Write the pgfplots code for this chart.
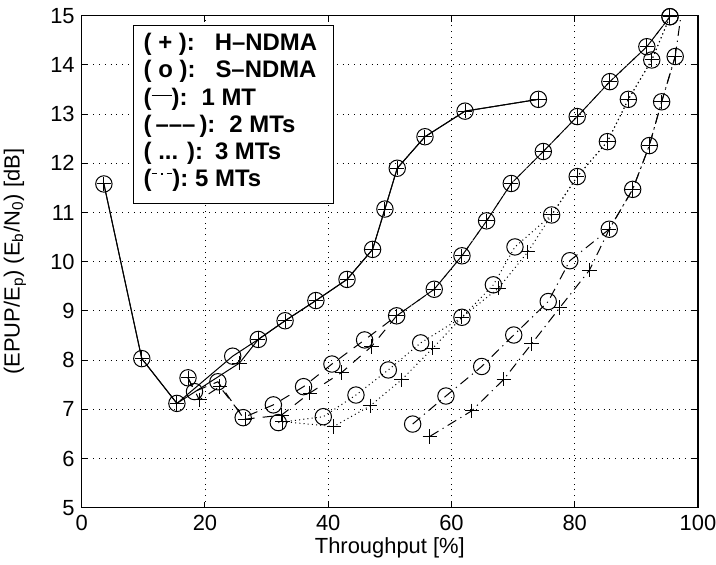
\documentclass[border=0pt]{standalone}
\usepackage{fontspec}
\setmainfont{Liberation Sans}
\usepackage{pgfplots}
\pgfplotsset{compat=1.18}

\pgfplotstableread{
x y
3.6 11.58
9.75 8.03
15.45 7.12
24.5 8.08
28.65 8.42
33.0 8.80
38.0 9.21
43.05 9.64
47.2 10.25
49.2 11.07
51.2 11.9
55.7 12.54
62.2 13.06
74.1 13.3
}\oneS
\pgfplotstableread{
x y
3.6 11.58
9.75 8.03
15.45 7.12
25.6 7.94
28.65 8.42
33.0 8.80
38.0 9.21
43.05 9.64
47.2 10.25
49.2 11.07
51.2 11.9
55.7 12.54
62.2 13.06
74.1 13.3
}\oneH
\pgfplotstableread{
x y
17.25 7.64
18.3 7.36
22.1 7.56
26.2 6.83
31.1 7.09
36.0 7.46
40.6 7.92
45.9 8.41
51.1 8.9
57.2 9.44
61.7 10.12
65.7 10.83
69.7 11.59
74.9 12.24
80.4 12.95
85.7 13.66
91.7 14.37
95.45 14.98
}\twoS
\pgfplotstableread{
x y
17.25 7.64
19.1 7.19
22.4 7.46
26.5 6.80
32.4 6.88
37.0 7.33
42.2 7.75
47.05 8.28
51.1 8.9
57.2 9.44
61.7 10.12
65.7 10.83
69.7 11.59
74.9 12.24
80.4 12.95
85.7 13.66
91.7 14.37
95.45 14.98
}\twoH
\pgfplotstableread{
x y
31.9 6.73
39.2 6.85
44.5 7.29
49.75 7.8
55.0 8.35
61.7 8.87
66.8 9.53
70.3 10.3
76.25 10.95
80.4 11.73
85.3 12.44
88.7 13.3
92.5 14.1
95.45 14.98
}\threeS
\pgfplotstableread{
x y
32.6 6.75
40.9 6.65
46.8 7.07
51.9 7.6
56.95 8.24
61.7 8.87
67.6 9.46
72.4 10.2
76.25 10.95
80.4 11.73
85.3 12.44
88.7 13.3
92.5 14.1
95.45 14.98
}\threeH
\pgfplotstableread{
x y
53.7 6.70
59.1 7.27
64.9 7.87
70.1 8.51
75.7 9.19
79.2 10.02
85.6 10.66
89.4 11.47
92.1 12.36
94.1 13.25
96.3 14.17
}\fiveS
\pgfplotstableread{
x y
56.5 6.45
63.3 6.97
68.5 7.61
73.0 8.33
77.6 9.07
82.4 9.83
85.6 10.66
89.4 11.47
92.1 12.36
94.1 13.25
96.3 14.17
}\fiveH

\tikzset{
  dashtwo/.style={dash pattern=on 5bp off 4bp},
  dotthree/.style={dash pattern=on 0.5bp off 1.6bp},
  dashfive/.style={dash pattern=on 5bp off 2.4bp on 0.6bp off 2.4bp},
  legtext/.style={anchor=base west, inner sep=0pt, font=\fontsize{12}{14}\selectfont\bfseries},
}

\begin{document}
\begin{tikzpicture}[font=\fontsize{11}{13}\selectfont]
\useasboundingbox (-40.85bp,-28.65bp) rectangle (317.15bp,253.85bp);
\begin{axis}[
  scale only axis, width=308.15bp, height=246bp,
  xmin=0, xmax=100, ymin=5, ymax=15,
  xtick={0,20,...,100}, ytick={5,6,...,15},
  tick align=inside, major tick length=3bp,
  grid=major,
  grid style={black, line width=0.4bp, dash pattern=on 0.5bp off 2.4bp},
  axis line style={line width=0.6bp},
  every tick/.style={black, line width=0.5bp},
  tick label style={font=\fontsize{11}{13}\selectfont},
  /pgf/number format/assume math mode=true,
  clip mode=individual,
  xlabel={Throughput [\%]},
  ylabel={(EPUP/E\textsubscript{p}) (E\textsubscript{b}/N\textsubscript{0}) [dB]},
  x label style={at={(axis description cs:0.5,-0.0813)}, anchor=center, font=\fontsize{11}{13}\selectfont},
  y label style={at={(axis description cs:-0.1084,0.5)}, anchor=center, font=\fontsize{11}{13}\selectfont},
  every axis plot/.append style={black, line width=0.5bp},
  omark/.style={mark=o, mark size=4.1bp, mark options={solid, line width=0.5bp}},
  pmark/.style={mark=+, mark size=3.6bp, mark options={solid, line width=0.5bp}},
]
\addplot[omark] table {\oneS};
\addplot[pmark] table {\oneH};
\addplot[omark, dashtwo] table {\twoS};
\addplot[pmark, dashtwo] table {\twoH};
\addplot[omark, dotthree] table {\threeS};
\addplot[pmark, dotthree] table {\threeH};
\addplot[omark, dashfive] table {\fiveS};
\addplot[pmark, dashfive] table {\fiveH};
\addplot[dashfive, no marks] coordinates {(96.3,14.17) (97.9,15.6)};

\node[draw, line width=0.5bp, fill=white, anchor=north west, inner sep=0pt,
      minimum width=100bp, minimum height=88.8bp] at (rel axis cs:0.0837,0.981) {};
\node[legtext] at (rel axis cs:0.1,0.9289) {( + ):\hspace{10bp}H–NDMA};
\node[legtext] at (rel axis cs:0.1,0.8736) {( o ):\hspace{10bp}S–NDMA};
\node[legtext] at (rel axis cs:0.1,0.8183) {(\raisebox{4.6bp}{\rule{10bp}{0.5bp}}):\hspace{7bp}1 MT};
\node[legtext] at (rel axis cs:0.1,0.7630) {(\,–––\,):\hspace{7bp}2 MTs};
\node[legtext] at (rel axis cs:0.1,0.7077) {( ... ):\hspace{6bp}3 MTs};
\node[legtext] at (rel axis cs:0.1,0.6524) {(\raisebox{6.2bp}{\rule{2.8bp}{0.5bp}}\hspace{1.8bp}\raisebox{5.9bp}{\rule{1.1bp}{1.1bp}}\hspace{1.8bp}\raisebox{6.2bp}{\rule{2.8bp}{0.5bp}}):\hspace{3.5bp}5 MTs};
\end{axis}
\end{tikzpicture}
\end{document}
